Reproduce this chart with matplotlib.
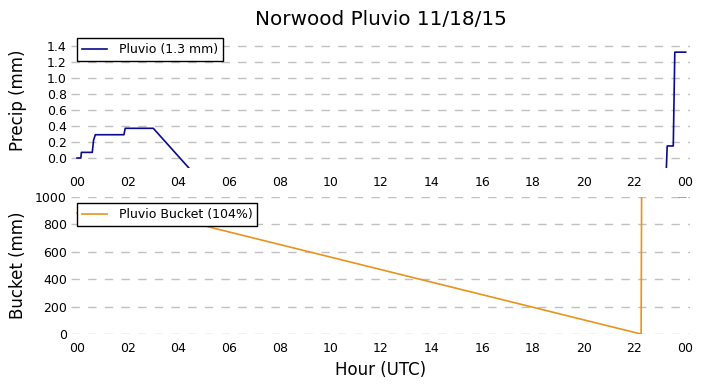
import matplotlib
matplotlib.use("Agg")
import matplotlib.pyplot as plt

# hours (UTC) and values
precip_hours = [0.0, 0.15, 0.17, 0.60, 0.65, 0.72, 1.85, 1.90, 3.01, 22.5, 23.30, 23.54, 23.60, 24.03]
precip_mm = [0.0, 0.0, 0.07, 0.07, 0.22, 0.29, 0.29, 0.37, 0.37, -6.5, 0.15, 0.15, 1.32, 1.32]

bucket_hours = [0.0, 3.0, 22.27, 22.29, 23.74, 23.76, 24.03]
bucket_mm = [883, 883, 0, 1010, 1010, 1000, 1000]

hour_ticks = list(range(0, 25, 2))
hour_labels = ["00", "02", "04", "06", "08", "10", "12", "14", "16", "18", "20", "22", "00"]
precip_ticks = [0.0, 0.2, 0.4, 0.6, 0.8, 1.0, 1.2, 1.4]
bucket_ticks = [0, 200, 400, 600, 800, 1000]

fig = plt.figure(figsize=(7.03, 3.88), dpi=100)
ax1 = fig.add_axes([0.101, 0.567, 0.8805, 0.3513])
ax2 = fig.add_axes([0.101, 0.139, 0.8805, 0.353])

ax1.plot(precip_hours, precip_mm, color="#0a0a8c", lw=1.2, label="Pluvio (1.3 mm)")
ax2.plot(bucket_hours, bucket_mm, color="#e8931e", lw=1.2, label="Pluvio Bucket (104%)")

ax1.set_ylim(-0.125, 1.575)
ax1.set_yticks(precip_ticks)
ax1.set_yticklabels([f"{v:.1f}" for v in precip_ticks])
ax2.set_ylim(0, 1000)
ax2.set_yticks(bucket_ticks)

for ax in (ax1, ax2):
    ax.set_xlim(-0.24, 24.2)
    ax.set_xticks(hour_ticks)
    ax.set_xticklabels(hour_labels)
    for s in ax.spines.values():
        s.set_visible(False)
    ax.tick_params(length=0, labelsize=9)
    ax.tick_params(axis="y", pad=3)
    ax.tick_params(axis="x", pad=6)
    ax.yaxis.grid(True, color="#c0c0c0", linestyle=(0, (6, 6)), lw=1.0)
    ax.set_axisbelow(True)
    leg = ax.legend(loc="upper left", fontsize=9, fancybox=False, framealpha=1,
                    borderaxespad=0.5, handletextpad=0.9, borderpad=0.4)
    leg.get_frame().set_edgecolor("black")

ax1.set_title("Norwood Pluvio 11/18/15", fontsize=14.4, pad=4.8)
ax1.set_ylabel("Precip (mm)", fontsize=12)
ax2.set_ylabel("Bucket (mm)", fontsize=12)
ax1.yaxis.set_label_coords(-0.071, 0.5)
ax2.yaxis.set_label_coords(-0.071, 0.5)
ax2.set_xlabel("Hour (UTC)", fontsize=12)

fig.savefig("out.png", dpi=100)
